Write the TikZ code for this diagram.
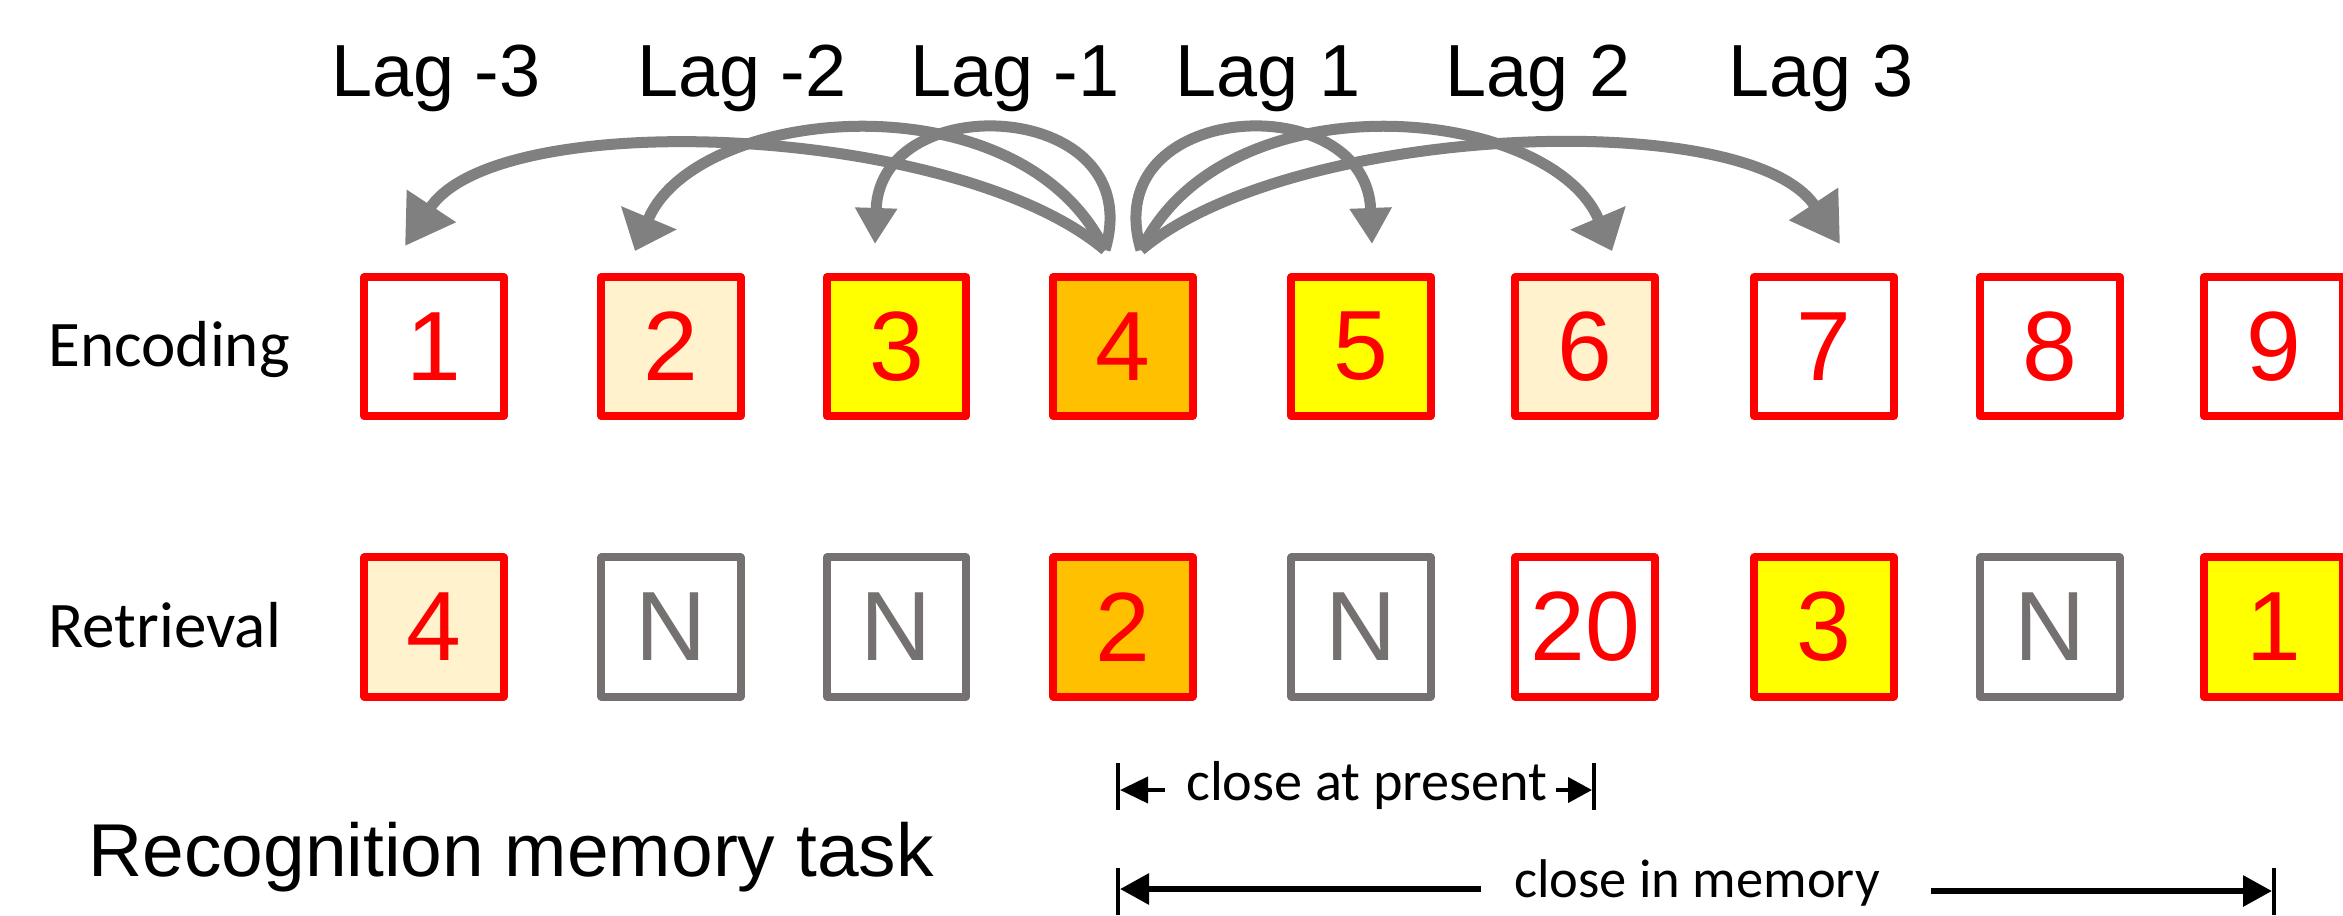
\documentclass[tikz,border=0pt]{standalone}
\usepackage{fontspec}
\setmainfont{Liberation Sans}
\newfontfamily\calibri{Carlito}
\usetikzlibrary{arrows.meta}
\definecolor{boxred}{RGB}{255,0,0}
\definecolor{ngray}{RGB}{118,113,113}
\definecolor{arrowgray}{RGB}{128,128,128}
\definecolor{creamfill}{RGB}{255,242,204}
\definecolor{yelfill}{RGB}{255,255,0}
\definecolor{orngfill}{RGB}{255,192,0}
\begin{document}
\begin{tikzpicture}[x=0.01cm, y=-0.01cm,
  itembox/.style={draw=boxred, fill=white, line width=0.08cm, minimum size=1.39cm, inner sep=0pt,
    line join=round, text=boxred, font=\fontsize{28}{30}\selectfont},
  newbox/.style={itembox, draw=ngray, text=ngray},
  lag/.style={anchor=base, inner sep=0pt, font=\fontsize{21}{25}\selectfont},
  rowlabel/.style={anchor=base west, inner sep=0pt, font=\calibri\fontsize{18.5}{22}\selectfont},
  title/.style={anchor=base west, inner sep=0pt, font=\fontsize{21.3}{25}\selectfont},
  note/.style={anchor=base, inner sep=0pt, font=\calibri\fontsize{16}{19}\selectfont},
  lagarrow/.style={draw=arrowgray, line width=0.11cm},
  bar/.style={draw=black, line width=0.04cm},
  thinarrow/.style={draw=black, line width=0.04cm},
  thickarrow/.style={draw=black, line width=0.06cm, -{Triangle[length=0.29cm,width=0.30cm]}}
]
\useasboundingbox (0,0) rectangle (2343,915);
\clip (0,0) rectangle (2343,915);

% lag labels
\node[lag] (lagm3) at (436,96) {Lag -3};
\node[lag] (lagm2) at (742,96) {Lag -2};
\node[lag] (lagm1) at (1015,96) {Lag -1};
\node[lag] (lagp1) at (1268,96) {Lag 1};
\node[lag] (lagp2) at (1538,96) {Lag 2};
\node[lag] (lagp3) at (1821,96) {Lag 3};

% row labels
\node[rowlabel] (enc) at (48,366) {Encoding};
\node[rowlabel] (ret) at (48,647) {Retrieval};

% encoding boxes
\node[itembox] (e1) at (434,346.5) {1};
\node[itembox, fill=creamfill] (e2) at (671,346.5) {2};
\node[itembox, fill=yelfill] (e3) at (896.5,346.5) {3};
\node[itembox, fill=orngfill] (e4) at (1123,346.5) {4};
\node[itembox, fill=yelfill] (e5) at (1361,346.5) {5};
\node[itembox, fill=creamfill] (e6) at (1585,346.5) {6};
\node[itembox] (e7) at (1824,346.5) {7};
\node[itembox] (e8) at (2050,346.5) {8};
\node[itembox] (e9) at (2273.5,346.5) {9};

% retrieval boxes
\node[itembox, fill=creamfill] (r1) at (434,627) {4};
\node[newbox] (r2) at (671,627) {N};
\node[newbox] (r3) at (896.5,627) {N};
\node[itembox, fill=orngfill] (r4) at (1123,627) {2};
\node[newbox] (r5) at (1361,627) {N};
\node[itembox] (r6) at (1585,627) {20};
\node[itembox, fill=yelfill] (r7) at (1824,627) {3};
\node[newbox] (r8) at (2050,627) {N};
\node[itembox, fill=yelfill] (r9) at (2273.5,627) {1};

% lag arrows
\coordinate (sL) at (1105,250);
\coordinate (sR) at (1141,250);
\coordinate (tm3) at (405,246);
\coordinate (tm2) at (635,251);
\coordinate (tm1) at (875,244);
\coordinate (tp1) at (1372,244);
\coordinate (tp2) at (1612,251);
\coordinate (tp3) at (1840,244);

\draw[lagarrow, -{Triangle[length=0.48cm,width=0.56cm]}] (sL) .. controls (956,124) and (498,105) .. (tm3);
\draw[lagarrow, -{Triangle[length=0.36cm,width=0.58cm]}] (sL) .. controls (1020,75) and (696,105) .. (tm2);
\draw[lagarrow, -{Triangle[length=0.36cm,width=0.40cm]}] (sL) .. controls (1150,100) and (880,85) .. (tm1);
\draw[lagarrow, -{Triangle[length=0.36cm,width=0.40cm]}] (sR) .. controls (1096,100) and (1366,85) .. (tp1);
\draw[lagarrow, -{Triangle[length=0.36cm,width=0.58cm]}] (sR) .. controls (1226,75) and (1550,105) .. (tp2);
\draw[lagarrow, -{Triangle[length=0.48cm,width=0.56cm]}] (sR) .. controls (1290,124) and (1748,105) .. (tp3);

% title
\node[title] (task) at (88,876) {Recognition memory task};

% close at present
\node[note] (cap) at (1367,800) {close at present};
\coordinate (capLt) at (1118,763);
\coordinate (capLb) at (1118,810);
\coordinate (capRt) at (1594,763);
\coordinate (capRb) at (1594,810);
\draw[bar] (capLt) -- (capLb);
\draw[bar] (capRt) -- (capRb);
\draw[thinarrow, -{Triangle[length=0.28cm,width=0.26cm]}] (1165,790) -- (1120,790);
\draw[thinarrow, -{Triangle[length=0.24cm,width=0.25cm]}] (1556,790) -- (1592,790);

% close in memory
\node[note, font=\calibri\fontsize{15.5}{18}\selectfont] (cim) at (1697,897) {close in memory};
\coordinate (cimLt) at (1118,868);
\coordinate (cimLb) at (1118,915);
\coordinate (cimRt) at (2274,868);
\coordinate (cimRb) at (2274,915);
\draw[bar] (cimLt) -- (cimLb);
\draw[bar] (cimRt) -- (cimRb);
\draw[thickarrow] (1481,889) -- (1120,889);
\draw[thickarrow] (1931,891) -- (2272,891);
\end{tikzpicture}
\end{document}
